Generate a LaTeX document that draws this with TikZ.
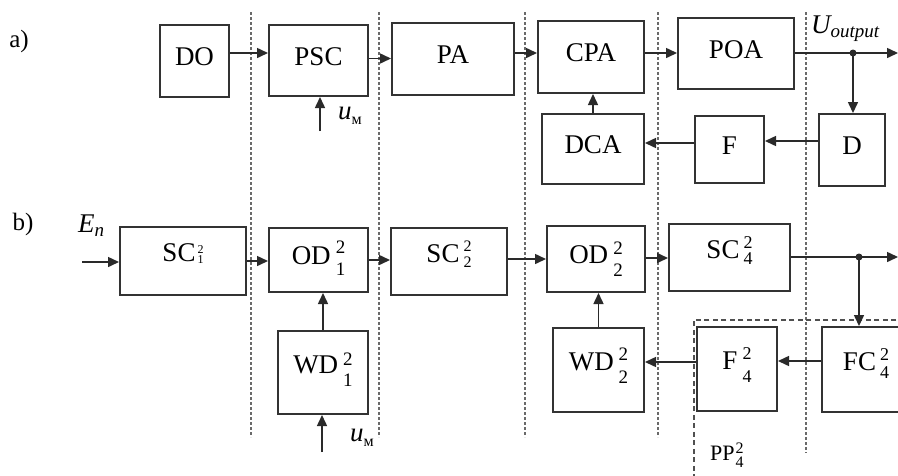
\documentclass[tikz,border=0pt]{standalone}
\usepackage{fontspec}
\setmainfont{Liberation Serif}
\usetikzlibrary{arrows.meta}
\definecolor{boxgray}{HTML}{333333}
\definecolor{linegray}{HTML}{2A2A2A}
\definecolor{sepgray}{HTML}{6A6A6A}
\definecolor{framegray}{HTML}{505050}
% stacked upper/lower index after a block name:
% #1 upper, #2 lower, #3 size, #4 raise of upper, #5 drop of lower, #6 gap
\newcommand{\idx}[6]{\hspace{#6}{\fontsize{#3}{#3}\selectfont
  \rlap{\raisebox{#4}{#1}}\raisebox{-#5}{#2}}}
\begin{document}
\begin{tikzpicture}[x=1pt,y=-1pt,
  box/.style={draw=boxgray, line width=2pt, inner sep=0pt, fill=white,
    text height=18pt, text depth=9pt, font=\fontsize{27}{30}\selectfont},
  boxlow/.style={box, text height=14pt, text depth=13pt},
  conn/.style={draw=linegray, line width=1.5pt, -{Triangle[length=11pt,width=10pt]}},
  sepline/.style={draw=sepgray, line width=1.4pt, dash pattern=on 3pt off 2pt},
  group/.style={draw=framegray, line width=1.6pt, dash pattern=on 5pt off 3.5pt},
  lbl/.style={inner sep=0pt, font=\fontsize{27}{30}\selectfont},
  part/.style={inner sep=0pt, font=\fontsize{25}{27}\selectfont},
  junction/.style={circle, fill=linegray, inner sep=0pt, minimum size=7pt}]

\useasboundingbox (0,0) rectangle (898,475);
\clip (0,0) rectangle (898,475);
\fill[white] (0,0) rectangle (898,475);

% stage separators
\foreach \xs in {251,379,525,658} \draw[sepline] (\xs,12) -- (\xs,437);
\draw[sepline] (806,12) -- (806,453);

% group frame of the output filter chain
\node[group, draw, inner sep=0pt, minimum width=240pt, minimum height=190pt,
  anchor=north west] (PP) at (693,319) {};
\node[inner sep=0pt, anchor=base west, font=\fontsize{22}{24}\selectfont] (PPlbl)
  at (710,460) {PP\idx{2}{4}{16}{7pt}{7pt}{1pt}};

% ---------- a) ----------
\node[part] (pa) at (19,41) {a)};
\node[box, minimum width=69pt,  minimum height=72pt] (DO)  at (194.5,61)  {DO};
\node[box, minimum width=99pt,  minimum height=71pt] (PSC) at (318.5,60.5) {PSC};
\node[box, minimum width=122pt, minimum height=72pt] (PA)  at (453,59)    {PA};
\node[box, minimum width=106pt, minimum height=72pt] (CPA) at (591,57)    {CPA};
\node[box, minimum width=116pt, minimum height=71pt] (POA) at (736,53.5)  {POA};
\node[box, minimum width=66pt,  minimum height=72pt] (D)   at (852,150)   {D};
\node[box, minimum width=69pt,  minimum height=67pt] (F)   at (729.5,149.5) {F};
\node[box, minimum width=102pt, minimum height=70pt] (DCA) at (593,149)   {DCA};

\coordinate (ra1) at (0,53);
\coordinate (ra2) at (0,58.5);
\coordinate (ra3) at (0,53);
\coordinate (rf1) at (0,141);
\coordinate (rf2) at (0,143);
\coordinate (uma) at (320,131);
\coordinate (dotA) at (853,53);
\coordinate (outA) at (898,53);

\draw[conn] (DO.east |- ra1) -- (PSC.west |- ra1);
\draw[conn] (PSC.east |- ra2) -- (PA.west |- ra2);
\draw[conn] (PA.east |- ra3) -- (CPA.west |- ra3);
\draw[conn] (CPA.east |- ra3) -- (POA.west |- ra3);
\draw[conn] (POA.east |- outA) -- (outA);
\draw[conn] (dotA) -- (dotA |- D.north);
\node[junction] (jA) at (dotA) {};
\draw[conn] (D.west |- rf1) -- (F.east |- rf1);
\draw[conn] (F.west |- rf2) -- (DCA.east |- rf2);
\draw[conn] (DCA.north) -- (DCA.north |- CPA.south);
\draw[conn] (uma) -- (uma |- PSC.south);

\node[lbl, anchor=base west] (umal) at (338,119)
  {\itshape u\raisebox{-5pt}{\upshape\fontsize{16}{16}\selectfont м}};
\node[lbl, anchor=base west] (Uout) at (811,33)
  {\itshape U\raisebox{-4pt}{\fontsize{19}{19}\selectfont output}};

% ---------- b) ----------
\node[part] (pb) at (23,224) {b)};
\node[boxlow, minimum width=126pt, minimum height=68pt] (SC1) at (183,261)
  {SC\idx{2}{1}{12}{8pt}{2pt}{2pt}};
\node[box,    minimum width=99pt,  minimum height=64pt] (OD1) at (318.5,260)
  {OD\idx{2}{1}{19}{11pt}{11pt}{5pt}};
\node[boxlow, minimum width=90pt,  minimum height=83pt] (WD1) at (323,372.5)
  {WD\idx{2}{1}{19}{8pt}{13pt}{5pt}};
\node[boxlow, minimum width=116pt, minimum height=67pt] (SC2) at (449,261.5)
  {SC\idx{2}{2}{16}{11pt}{5pt}{4pt}};
\node[box,    minimum width=98pt,  minimum height=66pt] (OD2) at (596,259)
  {OD\idx{2}{2}{19}{9pt}{13pt}{5pt}};
\node[boxlow, minimum width=121pt, minimum height=67pt] (SC4) at (729.5,257.5)
  {SC\idx{2}{4}{18}{10pt}{6pt}{4pt}};
\node[boxlow, minimum width=91pt,  minimum height=84pt] (WD2) at (598.5,370)
  {WD\idx{2}{2}{19}{10pt}{13pt}{5pt}};
\node[boxlow, minimum width=80pt,  minimum height=84pt] (F4)  at (737,369)
  {F\idx{2}{4}{18}{10pt}{13pt}{5pt}};
\node[boxlow, minimum width=88pt,  minimum height=85pt] (FC4) at (866,369.5)
  {FC\idx{2}{4}{18}{10pt}{8pt}{4pt}};

\coordinate (inB) at (82,262);
\coordinate (rb1) at (0,261);
\coordinate (rb2) at (0,260);
\coordinate (rb3) at (0,259);
\coordinate (rb4) at (0,258);
\coordinate (rb5) at (0,257);
\coordinate (rg1) at (0,361);
\coordinate (rg2) at (0,362);
\coordinate (umb) at (322,452);
\coordinate (dotB) at (859,257);
\coordinate (outB) at (898,257);

\draw[conn] (inB) -- (inB -| SC1.west);
\draw[conn] (SC1.east |- rb1) -- (OD1.west |- rb1);
\draw[conn] (OD1.east |- rb2) -- (SC2.west |- rb2);
\draw[conn] (SC2.east |- rb3) -- (OD2.west |- rb3);
\draw[conn] (OD2.east |- rb4) -- (SC4.west |- rb4);
\draw[conn] (SC4.east |- rb5) -- (outB);
\draw[conn] (dotB) -- (dotB |- FC4.north);
\node[junction] (jB) at (dotB) {};
\draw[conn] (FC4.west |- rg1) -- (F4.east |- rg1);
\draw[conn] (F4.west |- rg2) -- (WD2.east |- rg2);
\draw[conn] (WD2.north) -- (WD2.north |- OD2.south);
\draw[conn] (WD1.north) -- (WD1.north |- OD1.south);
\draw[conn] (umb) -- (umb |- WD1.south);

\node[lbl, anchor=base west] (En) at (78,232)
  {\itshape E\raisebox{-4pt}{\fontsize{19}{19}\selectfont n}};
\node[lbl, anchor=base west] (umbl) at (350,441)
  {\itshape u\raisebox{-5pt}{\upshape\fontsize{16}{16}\selectfont м}};
\end{tikzpicture}
\end{document}
